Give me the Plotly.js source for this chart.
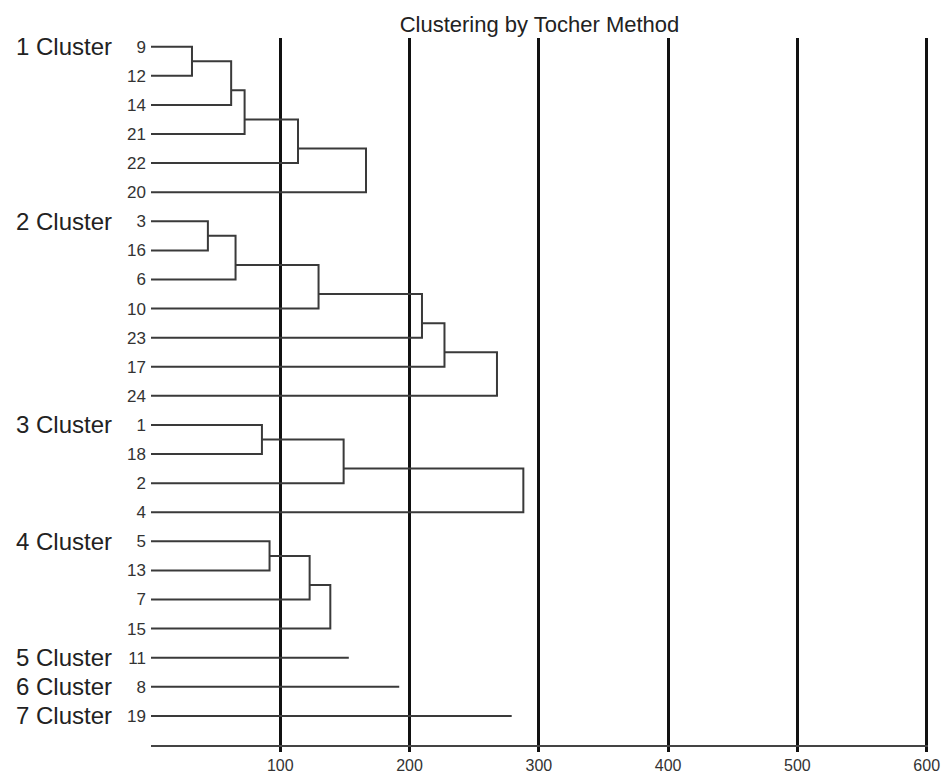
<!DOCTYPE html>
<html>
<head>
<meta charset="utf-8">
<script src="https://cdn.plot.ly/plotly-3.0.1.min.js"></script>
<style>html,body{margin:0;padding:0;background:#fff;}#chart{width:945px;height:776px;}</style>
</head>
<body>
<div id="chart"></div>
<script>
// ---- data ----
var clusterNames = ["1 Cluster", "2 Cluster", "3 Cluster", "4 Cluster", "5 Cluster", "6 Cluster", "7 Cluster"];
var cluster1Leaves = ["9", "12", "14", "21", "22", "20"];
var cluster1Heights = [31.7, 62, 72.4, 113.7, 166.3];
var cluster2Leaves = ["3", "16", "6", "10", "23", "17", "24"];
var cluster2Heights = [44, 65.4, 129.6, 209.6, 227, 267.6];
var cluster3Leaves = ["1", "18", "2", "4"];
var cluster3Heights = [85.8, 149, 288];
var cluster4Leaves = ["5", "13", "7", "15"];
var cluster4Heights = [91.7, 122.7, 138.7];
var cluster5Leaves = ["11"];
var cluster5Heights = [153];
var cluster6Leaves = ["8"];
var cluster6Heights = [192];
var cluster7Leaves = ["19"];
var cluster7Heights = [279];
var xTickValues = [100, 200, 300, 400, 500, 600];
var xTickLabels = ["100", "200", "300", "400", "500", "600"];

var clusters = [
  [cluster1Leaves, cluster1Heights], [cluster2Leaves, cluster2Heights],
  [cluster3Leaves, cluster3Heights], [cluster4Leaves, cluster4Heights],
  [cluster5Leaves, cluster5Heights], [cluster6Leaves, cluster6Heights],
  [cluster7Leaves, cluster7Heights]
];

var xs = [], ys = [], leafNames = [], leafRows = [], annotations = [];
var row = 0;
var fam = "Liberation Sans, Arial, sans-serif";
clusters.forEach(function (c, ci) {
  var leaves = c[0], h = c[1];
  var r0 = row;
  leaves.forEach(function (name, i) { leafNames.push(name); leafRows.push(r0 + i); });
  annotations.push({
    xref: "paper", yref: "y", x: -0.176, y: r0, xanchor: "left", yanchor: "middle",
    text: clusterNames[ci], showarrow: false,
    font: {family: fam, size: 24, color: "#222"}
  });
  if (leaves.length === 1) {
    xs.push(0, h[0], null); ys.push(r0, r0, null);
  } else {
    var curX = 0, curPos = r0;
    for (var k = 1; k < leaves.length; k++) {
      var hk = h[k - 1], leafRow = r0 + k;
      xs.push(curX, hk, hk, 0, null);
      ys.push(curPos, curPos, leafRow, leafRow, null);
      curX = hk; curPos = leafRow - 0.5;
    }
  }
  row += leaves.length;
});

var trace = {
  type: "scatter", mode: "lines", x: xs, y: ys,
  line: {color: "#3a3a3a", width: 2}, hoverinfo: "skip", showlegend: false,
  cliponaxis: false
};

var layout = {
  width: 945, height: 776,
  margin: {l: 151, r: 17, t: 38, b: 31, pad: 0},
  paper_bgcolor: "#fff", plot_bgcolor: "#fff",
  title: {text: "Clustering by Tocher Method", x: 0.5, xref: "paper", y: 0.969, yanchor: "middle",
          font: {family: fam, size: 22, color: "#222"}},
  xaxis: {
    range: [0, 601], tickvals: xTickValues, ticktext: xTickLabels,
    showgrid: true, gridcolor: "#111", gridwidth: 3,
    zeroline: false, showline: true, linecolor: "#444", linewidth: 2,
    ticks: "outside", ticklen: 5, tickwidth: 3, tickcolor: "#111",
    tickfont: {family: fam, size: 16, color: "#333"}, fixedrange: true
  },
  yaxis: {
    range: [24, -0.3], tickvals: leafRows, ticktext: leafNames,
    showgrid: false, zeroline: false, showline: false,
    ticks: "", ticklabelstandoff: 4,
    tickfont: {family: fam, size: 17, color: "#333"}, fixedrange: true
  },
  annotations: annotations
};

Plotly.newPlot("chart", [trace], layout, {displayModeBar: false, staticPlot: true});
</script>
</body>
</html>
